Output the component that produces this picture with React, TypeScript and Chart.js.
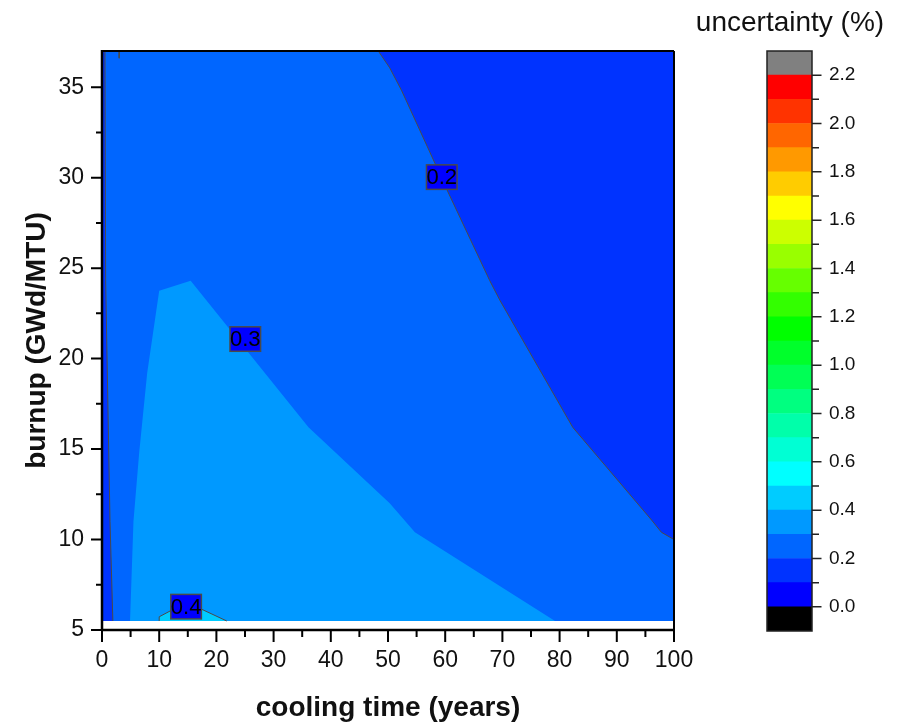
import React, { useEffect, useRef } from 'react';
import { Chart, registerables } from 'chart.js';

Chart.register(...registerables);

const FONT = 'Arial, "Liberation Sans", Helvetica, sans-serif';

// ---- axes ----
const xMajorTicks = [0, 10, 20, 30, 40, 50, 60, 70, 80, 90, 100];
const xMinorTicks = [5, 15, 25, 35, 45, 55, 65, 75, 85, 95];
const yMajorTicks = [5, 10, 15, 20, 25, 30, 35];
const yMinorTicks = [7.5, 12.5, 17.5, 22.5, 27.5, 32.5];

// ---- colour scale ----
const cbMajorTicks = [0.0, 0.2, 0.4, 0.6, 0.8, 1.0, 1.2, 1.4, 1.6, 1.8, 2.0, 2.2];
const cbMinorTicks = [0.1, 0.3, 0.5, 0.7, 0.9, 1.1, 1.3, 1.5, 1.7, 1.9, 2.1];
const levelLow = [-0.1, 0.0, 0.1, 0.2, 0.3, 0.4, 0.5, 0.6, 0.7, 0.8, 0.9, 1.0, 1.1, 1.2, 1.3, 1.4, 1.5, 1.6, 1.7, 1.8, 1.9, 2.0, 2.1, 2.2];
const levelHigh = [0.0, 0.1, 0.2, 0.3, 0.4, 0.5, 0.6, 0.7, 0.8, 0.9, 1.0, 1.1, 1.2, 1.3, 1.4, 1.5, 1.6, 1.7, 1.8, 1.9, 2.0, 2.1, 2.2, 2.3];
const levelColors = [
  '#000000', '#0000FF', '#0033FF', '#0066FF', '#0099FF', '#00CCFF', '#00FFFF', '#00FFD4',
  '#00FFAA', '#00FF80', '#00FF55', '#00FF2B', '#00FF00', '#33FF00', '#66FF00', '#99FF00',
  '#CCFF00', '#FFFF00', '#FFCC00', '#FF9900', '#FF6600', '#FF3300', '#FF0000', '#808080',
];

// ---- contour regions (cooling time, burnup) ----
const domainX = [0, 100, 100, 0, 0];
const domainY = [5.5, 5.5, 37, 37, 5.5];

const region01X = [48.3, 50.3, 52.4, 58.2, 60.5, 67.8, 69.6, 82.3, 96.1, 97.8, 100, 100, 48.3];
const region01Y = [37, 36.07, 34.8, 30.8, 29.2, 24.3, 23.2, 16.2, 11.07, 10.4, 10.0, 37, 37];

const leftStripX = [0, 1.9, 1.4, 0.64, 0.52, 0, 0];
const leftStripY = [5.5, 5.5, 11.0, 24.3, 37, 37, 5.5];

const region03X = [4.9, 5.5, 6.5, 7.9, 10.0, 15.5, 36.1, 50.3, 54.7, 79.2, 4.9];
const region03Y = [5.5, 11.0, 14.8, 19.2, 23.75, 24.3, 16.2, 12.0, 10.4, 5.5, 5.5];

const region04X = [10.0, 10.0, 12.2, 15.0, 17.4, 21.8, 10.0];
const region04Y = [5.5, 5.73, 6.1, 6.35, 6.15, 5.5, 5.5];

// ---- contour lines ----
const line02X = [48.3, 50.3, 52.4, 58.2, 60.5, 67.8, 69.6, 82.3, 96.1, 97.8, 100];
const line02Y = [37, 36.07, 34.8, 30.8, 29.2, 24.3, 23.2, 16.2, 11.07, 10.4, 10.0];
const lineLeftX = [1.9, 1.4, 0.64, 0.52];
const lineLeftY = [5.5, 11.0, 24.3, 37];
const line04X = [10.0, 10.0, 12.2, 15.0, 17.4, 21.8];
const line04Y = [5.5, 5.73, 6.1, 6.35, 6.15, 5.5];
const lineTopX = [3.0, 3.0];
const lineTopY = [37, 36.6];

// ---- contour labels ----
const labelTexts = ['0.2', '0.3', '0.4'];
const labelX = [59.4, 25.05, 14.7];
const labelY = [30.03, 21.08, 6.29];

const pts = (xs: number[], ys: number[]) => xs.map((x, i) => ({ x, y: ys[i] }));

const regionDs = (xs: number[], ys: number[], color: string, order: number) => ({
  data: pts(xs, ys),
  backgroundColor: color,
  borderColor: 'rgba(0,0,0,0)',
  borderWidth: 0,
  fill: 'shape',
  pointRadius: 0,
  tension: 0,
  order,
});

const lineDs = (xs: number[], ys: number[]) => ({
  data: pts(xs, ys),
  borderColor: '#4a4a4a',
  borderWidth: 1,
  fill: false,
  pointRadius: 0,
  tension: 0,
  order: 0,
});

const mainOverlay = {
  id: 'mainOverlay',
  afterDatasetsDraw(chart: any) {
    const ctx = chart.ctx;
    const xs = chart.scales.x;
    const ys = chart.scales.y;
    ctx.save();
    ctx.font = `22px ${FONT}`;
    labelTexts.forEach((t, i) => {
      const px = xs.getPixelForValue(labelX[i]);
      const py = ys.getPixelForValue(labelY[i]);
      const w = ctx.measureText(t).width;
      const h = 24.5;
      ctx.fillStyle = '#0000FF';
      ctx.fillRect(px - w / 2, py - h / 2, w, h);
      ctx.strokeStyle = '#4a4a4a';
      ctx.lineWidth = 1.5;
      ctx.strokeRect(px - w / 2, py - h / 2, w, h);
      ctx.fillStyle = '#000';
      ctx.textAlign = 'center';
      ctx.textBaseline = 'middle';
      ctx.fillText(t, px, py + 1);
    });
    ctx.restore();
  },
  afterDraw(chart: any) {
    const ctx = chart.ctx;
    const { left, right, top, bottom } = chart.chartArea;
    const xs = chart.scales.x;
    const ys = chart.scales.y;
    ctx.save();
    ctx.strokeStyle = '#000';
    ctx.lineCap = 'butt';
    // frame
    ctx.lineWidth = 2;
    ctx.beginPath();
    ctx.moveTo(left, top); ctx.lineTo(right, top);
    ctx.moveTo(right, top); ctx.lineTo(right, bottom);
    ctx.stroke();
    ctx.lineWidth = 2.5;
    ctx.beginPath();
    ctx.moveTo(left, top - 1); ctx.lineTo(left, bottom + 1);
    ctx.moveTo(left - 1, bottom); ctx.lineTo(right + 1, bottom);
    ctx.stroke();
    // ticks
    ctx.lineWidth = 2;
    ctx.beginPath();
    xMajorTicks.forEach((v) => { const p = xs.getPixelForValue(v); ctx.moveTo(p, bottom); ctx.lineTo(p, bottom + 12); });
    xMinorTicks.forEach((v) => { const p = xs.getPixelForValue(v); ctx.moveTo(p, bottom); ctx.lineTo(p, bottom + 7); });
    yMajorTicks.forEach((v) => { const p = ys.getPixelForValue(v); ctx.moveTo(left - 11, p); ctx.lineTo(left, p); });
    yMinorTicks.forEach((v) => { const p = ys.getPixelForValue(v); ctx.moveTo(left - 6, p); ctx.lineTo(left, p); });
    ctx.stroke();
    // titles
    ctx.fillStyle = '#111';
    ctx.textAlign = 'center';
    ctx.textBaseline = 'alphabetic';
    ctx.font = `bold 28px ${FONT}`;
    ctx.fillText('cooling time (years)', (left + right) / 2, 716);
    ctx.save();
    ctx.translate(45, (top + bottom) / 2);
    ctx.rotate(-Math.PI / 2);
    ctx.fillText('burnup (GWd/MTU)', 0, 0);
    ctx.restore();
    ctx.font = `28px ${FONT}`;
    ctx.fillText('uncertainty (%)', 790, 30.5);
    ctx.restore();
  },
};

const cbOverlay = {
  id: 'cbOverlay',
  afterDraw(chart: any) {
    const ctx = chart.ctx;
    const { left, right, top, bottom } = chart.chartArea;
    const ys = chart.scales.y;
    ctx.save();
    ctx.strokeStyle = '#222';
    ctx.lineWidth = 1.5;
    ctx.strokeRect(left, top, right - left, bottom - top);
    ctx.beginPath();
    cbMajorTicks.forEach((v) => { const p = ys.getPixelForValue(v); ctx.moveTo(right, p); ctx.lineTo(right + 9.5, p); });
    cbMinorTicks.forEach((v) => { const p = ys.getPixelForValue(v); ctx.moveTo(right, p); ctx.lineTo(right + 7, p); });
    ctx.stroke();
    ctx.restore();
  },
};

export default function App() {
  const mainRef = useRef<HTMLCanvasElement>(null);
  const cbRef = useRef<HTMLCanvasElement>(null);

  useEffect(() => {
    const main = new Chart(mainRef.current as HTMLCanvasElement, {
      type: 'line',
      data: {
        datasets: [
          lineDs(line02X, line02Y),
          lineDs(lineLeftX, lineLeftY),
          lineDs(line04X, line04Y),
          lineDs(lineTopX, lineTopY),
          regionDs(region04X, region04Y, levelColors[5], 1),
          regionDs(region03X, region03Y, levelColors[4], 2),
          regionDs(region01X, region01Y, levelColors[2], 3),
          regionDs(leftStripX, leftStripY, levelColors[2], 3),
          regionDs(domainX, domainY, levelColors[3], 4),
        ] as any,
      },
      options: {
        responsive: false,
        animation: false,
        devicePixelRatio: 1,
        events: [],
        layout: { padding: { left: 0, top: 51, right: 225, bottom: 0 } },
        plugins: { legend: { display: false }, tooltip: { enabled: false } },
        scales: {
          x: {
            type: 'linear',
            min: 0,
            max: 100,
            afterBuildTicks: (s: any) => { s.ticks = xMajorTicks.map((v) => ({ value: v })); },
            afterFit: (s: any) => { s.height = 95; },
            grid: { display: false, drawTicks: false },
            border: { display: false },
            ticks: { font: { family: FONT, size: 23 }, color: '#111', padding: 17, maxRotation: 0, autoSkip: false },
          },
          y: {
            type: 'linear',
            min: 5,
            max: 37,
            afterBuildTicks: (s: any) => { s.ticks = yMajorTicks.map((v) => ({ value: v })); },
            afterFit: (s: any) => { s.width = 102; },
            grid: { display: false, drawTicks: false },
            border: { display: false },
            ticks: { font: { family: FONT, size: 23 }, color: '#111', padding: 18, autoSkip: false },
          },
        },
      } as any,
      plugins: [mainOverlay],
    });

    const cb = new Chart(cbRef.current as HTMLCanvasElement, {
      type: 'bar',
      data: {
        labels: ['uncertainty'],
        datasets: levelColors.map((c, i) => ({
          data: [[levelLow[i], levelHigh[i]]],
          backgroundColor: c,
          borderWidth: 0,
          barPercentage: 1,
          categoryPercentage: 1,
          grouped: false,
        })) as any,
      },
      options: {
        responsive: false,
        animation: false,
        devicePixelRatio: 1,
        events: [],
        layout: { padding: { left: 27, top: 51, right: 0, bottom: 94 } },
        plugins: { legend: { display: false }, tooltip: { enabled: false } },
        scales: {
          x: { type: 'category', display: false },
          y: {
            type: 'linear',
            position: 'right',
            min: -0.1,
            max: 2.3,
            afterBuildTicks: (s: any) => { s.ticks = cbMajorTicks.map((v) => ({ value: v })); },
            afterFit: (s: any) => { s.width = 87; },
            grid: { display: false, drawTicks: false },
            border: { display: false },
            ticks: {
              font: { family: FONT, size: 19 },
              color: '#111',
              padding: 17,
              autoSkip: false,
              callback: (v: any) => Number(v).toFixed(1),
            },
          },
        },
      } as any,
      plugins: [cbOverlay],
    });

    return () => {
      main.destroy();
      cb.destroy();
    };
  }, []);

  return (
    <div style={{ position: 'absolute', left: 0, top: 0, width: 899, height: 725, background: '#fff' }}>
      <canvas ref={mainRef} width={899} height={725} style={{ position: 'absolute', left: 0, top: 0, width: 899, height: 725 }} />
      <canvas ref={cbRef} width={159} height={725} style={{ position: 'absolute', left: 740, top: 0, width: 159, height: 725 }} />
    </div>
  );
}
